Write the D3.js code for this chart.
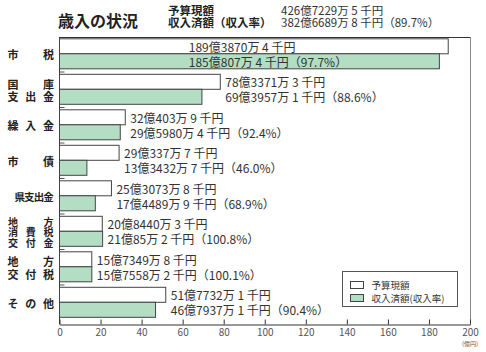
<!DOCTYPE html>
<html>
<head>
<meta charset="utf-8">
<script src="https://cdn.jsdelivr.net/npm/d3@7"></script>
<style>
body{margin:0;background:#fff}
svg{display:block;font-family:"Noto Sans CJK JP","Noto Sans",sans-serif}
</style>
</head>
<body>
<div id="wrapper"></div>
<script>
// Data (億円)
const categories = ["市税","国庫支出金","繰入金","市債","県支出金","地方消費税交付金","地方交付税","その他"];
const categoryLines = [["市　税"],["国　庫","支出金"],["繰入金"],["市　債"],["県支出金"],["地　方","消費税","交付金"],["地　方","交付税"],["その他"]];
const budget   = [189.3870, 78.3371, 32.0403, 29.0337, 25.3073, 20.8440, 15.7349, 51.7732];
const received = [185.0807, 69.3957, 29.5980, 13.3432, 17.4489, 21.0085, 15.7558, 46.7937];
const budgetText   = ["189億3870万 4 千円","78億3371万 3 千円","32億403万 9 千円","29億337万 7 千円","25億3073万 8 千円","20億8440万 3 千円","15億7349万 8 千円","51億7732万 1 千円"];
const receivedText = ["185億807万 4 千円","69億3957万 1 千円","29億5980万 4 千円","13億3432万 7 千円","17億4489万 9 千円","21億85万 2 千円","15億7558万 2 千円","46億7937万 1 千円"];
const rates = ["97.7","88.6","92.4","46.0","68.9","100.8","100.1","90.4"];
const xTicks = [0,20,40,60,80,100,120,140,160,180,200];
const totalBudgetText = "426億7229万 5 千円";
const totalReceivedText = "382億6689万 8 千円（89.7%）";

const green = "#b4dec3";
const ink = "#333";

const dimension = {width:486, height:352, margin:{top:37, bottom:28, left:59.5, right:16}};
const plotBottom = dimension.height - dimension.margin.bottom + 0.5;
const plotRight = dimension.width - dimension.margin.right;

const svg = d3.select("#wrapper").append("svg")
  .attr("width", dimension.width).attr("height", dimension.height);

// Scales
const xScale = d3.scaleLinear().domain([0,200]).range([dimension.margin.left, plotRight]);
const yScale = d3.scaleBand().domain(categories).range([dimension.margin.top, plotBottom - 3.5]);
const barH = 15, barOff = 1.8;

// Title / header
svg.append("text").attr("x",58).attr("y",20).attr("dominant-baseline","central")
  .attr("font-size","16px").attr("font-weight","bold").attr("fill","#222").text("歳入の状況");
svg.append("text").attr("x",168).attr("y",10).attr("dominant-baseline","central")
  .attr("font-size","11.5px").attr("font-weight","bold").attr("fill","#222").text("予算現額");
svg.append("text").attr("x",168).attr("y",22).attr("dominant-baseline","central")
  .attr("font-size","11.5px").attr("font-weight","bold").attr("fill","#222").text("収入済額（収入率）");
svg.append("text").attr("x",281).attr("y",10).attr("dominant-baseline","central")
  .attr("font-size","11.5px").attr("fill",ink).text(totalBudgetText);
svg.append("text").attr("x",281).attr("y",22).attr("dominant-baseline","central")
  .attr("font-size","11.5px").attr("fill",ink).text(totalReceivedText);

// Frame
svg.append("line").attr("x1",dimension.margin.left).attr("x2",plotRight+0.5)
  .attr("y1",dimension.margin.top+0.5).attr("y2",dimension.margin.top+0.5).attr("stroke","#333");
svg.append("line").attr("x1",plotRight+0.5).attr("x2",plotRight+0.5)
  .attr("y1",dimension.margin.top).attr("y2",plotBottom).attr("stroke","#888");
svg.append("line").attr("x1",dimension.margin.left).attr("x2",dimension.margin.left)
  .attr("y1",dimension.margin.top).attr("y2",plotBottom).attr("stroke","#333");

// Row separators on the y axis
svg.selectAll(".sep").data(categories.slice(0,-1)).enter().append("line")
  .attr("x1",dimension.margin.left).attr("x2",dimension.margin.left+5)
  .attr("y1",d=>yScale(d)+yScale.step()-0.5).attr("y2",d=>yScale(d)+yScale.step()-0.5)
  .attr("stroke","#555");

// Bars
const rows = svg.selectAll(".row").data(categories).enter().append("g");
rows.append("rect")
  .attr("x",xScale(0)).attr("y",d=>yScale(d)+barOff)
  .attr("width",(d,i)=>xScale(budget[i])-xScale(0)).attr("height",barH)
  .attr("fill","#fff").attr("stroke","#444");
rows.append("rect")
  .attr("x",xScale(0)).attr("y",d=>yScale(d)+barOff+barH)
  .attr("width",(d,i)=>xScale(received[i])-xScale(0)).attr("height",barH)
  .attr("fill",green).attr("stroke","#444");

// Value labels
const recLabels = rows.append("text")
  .attr("y",d=>yScale(d)+barOff+barH*1.5).attr("dominant-baseline","central")
  .attr("font-size","12px").attr("fill",ink)
  .text((d,i)=>`${receivedText[i]}（${rates[i]}%）`);
const budLabels = rows.append("text")
  .attr("y",d=>yScale(d)+barOff+barH*0.5).attr("dominant-baseline","central")
  .attr("font-size","12px").attr("fill",ink)
  .text((d,i)=>budgetText[i]);
const labelX = [];
recLabels.each(function(d,i){
  const w = this.getComputedTextLength();
  let lx = xScale(Math.max(budget[i],received[i]))+5;
  if (lx + w > xScale(200)-3) lx = xScale(63);
  labelX[i] = lx;
});
recLabels.attr("x",(d,i)=>labelX[i]);
budLabels.attr("x",(d,i)=>labelX[i]);

// Category labels (characters spread across the label column)
categoryLines.forEach((lines,i)=>{
  const multi = lines.length>2;
  const lh = multi ? 10.5 : 12.5;
  const cy = yScale(categories[i]) + barOff + barH + 0.5;
  lines.forEach((line,j)=>{
    const chars = line.replace(/　/g,"").split("");
    const n = chars.length;
    const gap = n<=3 ? (n>1 ? 35.5/(n-1) : 0) : 9.6;
    const fs = multi ? 10 : (n>3 ? 10.5 : 11);
    const ly = cy + (j-(lines.length-1)/2)*lh;
    chars.forEach((c,k)=>{
      svg.append("text").attr("x",48.5-(n-1-k)*gap).attr("y",ly)
        .attr("text-anchor","middle").attr("dominant-baseline","central")
        .attr("font-size",fs+"px").attr("font-weight","bold").attr("fill","#222").text(c);
    });
  });
});

// x axis
const xAxis = svg.append("g").attr("transform",`translate(0,${plotBottom})`)
  .call(d3.axisBottom(xScale).tickValues(xTicks).tickSize(-5).tickSizeOuter(0).tickPadding(4));
xAxis.select(".domain").attr("stroke","#333");
xAxis.selectAll(".tick line").attr("stroke","#333");
xAxis.selectAll(".tick text").attr("font-size","10px").attr("fill","#555")
  .attr("font-family","\"Noto Sans CJK JP\",sans-serif");
svg.append("text").attr("x",xScale(200)).attr("y",plotBottom+19).attr("text-anchor","middle")
  .attr("dominant-baseline","central").attr("font-size","6px").attr("fill","#555").text("(億円)");

// Legend
const legend = svg.append("g").attr("transform","translate(342.5,271.5)");
legend.append("rect").attr("width",115).attr("height",35).attr("fill","#fff").attr("stroke","#555");
legend.append("rect").attr("x",8).attr("y",10).attr("width",13).attr("height",7).attr("fill","#fff").attr("stroke","#444");
legend.append("rect").attr("x",8).attr("y",23).attr("width",13).attr("height",7).attr("fill",green).attr("stroke","#444");
legend.append("text").attr("x",29).attr("y",13.5).attr("dominant-baseline","central")
  .attr("font-size","9.5px").attr("fill",ink).text("予算現額");
legend.append("text").attr("x",29).attr("y",26.5).attr("dominant-baseline","central")
  .attr("font-size","9.5px").attr("fill",ink).text("収入済額(収入率)");
</script>
</body>
</html>
